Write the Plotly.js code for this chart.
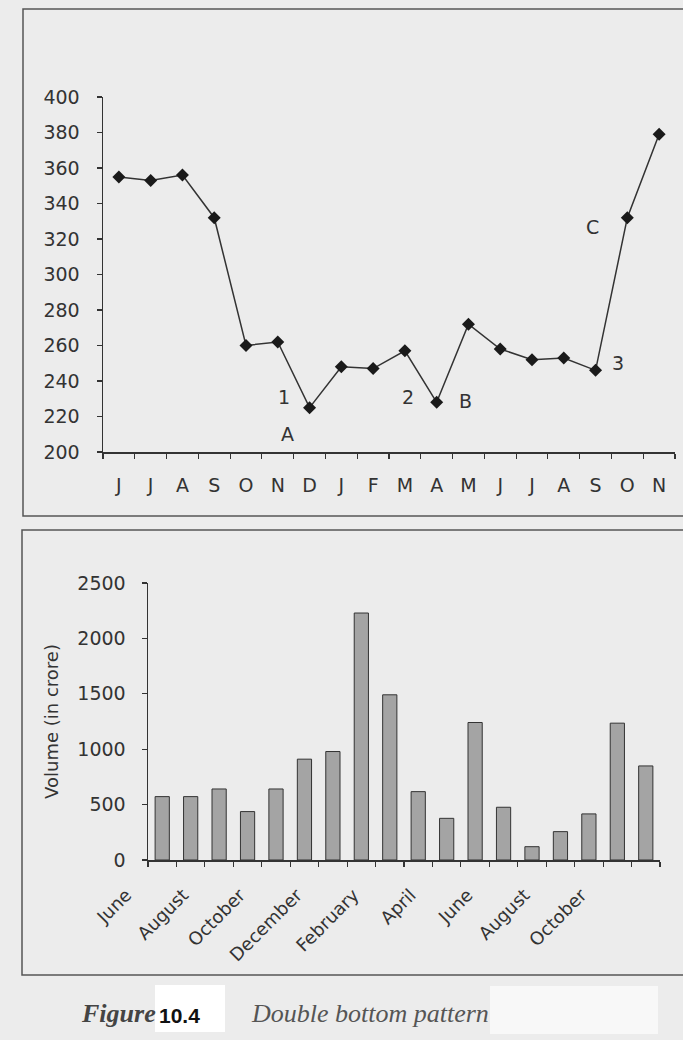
<!DOCTYPE html>
<html>
<head>
<meta charset="utf-8">
<script src="https://cdn.plot.ly/plotly-3.0.1.min.js"></script>
<style>
  html, body { margin: 0; padding: 0; background: #ececec; }
  #chart { width: 683px; height: 1040px; }
</style>
</head>
<body>
<div id="chart"></div>
<script>
// ---- data ----
const months = ["June","July","August","September","October","November","December",
                "January","February","March","April","May","June","July","August",
                "September","October","November"];
const priceTickLabels = ["J","J","A","S","O","N","D","J","F","M","A","M","J","J","A","S","O","N"];
const price = [355, 353, 356, 332, 260, 262, 225, 248, 247, 257, 228, 272, 258, 252, 253, 246, 332, 379];
const volume = [572, 572, 641, 437, 641, 910, 979, 2229, 1491, 617, 376, 1241, 476, 120, 256, 416, 1235, 849];
const volumeTickLabels = ["June","August","October","December","February","April","June","August","October"];
const pointLabels = ["1", "A", "2", "B", "C", "3"];
const pointLabelX = [5.2, 5.3, 9.1, 10.9, 14.9, 15.7];
const pointLabelY = [231, 210, 231, 229, 327, 250];
const captionParts = ["Figure", "10.4", "Double bottom pattern"];
const volumeTitle = "Volume (in crore)";

// ---- helpers (page pixels -> paper fractions) ----
const W = 683, H = 1040;
const px = v => v / W;
const py = v => 1 - v / H;

const idx = months.map((m, i) => i);
const volTickVals = volumeTickLabels.map((m, i) => i * 2);

const axisFont = { family: "DejaVu Sans, Arial, sans-serif", size: 19, color: "#333" };
const lineCol = "#333";

const traces = [
  {
    type: "scatter", mode: "lines+markers",
    x: idx, y: price, xaxis: "x", yaxis: "y",
    line: { color: "#333", width: 1.5 },
    marker: { symbol: "diamond", size: 10, color: "#1a1a1a" },
    hoverinfo: "skip", showlegend: false
  },
  {
    type: "bar",
    x: idx, y: volume, xaxis: "x2", yaxis: "y2",
    width: 0.5,
    marker: { color: "#a4a4a4", line: { color: "#333", width: 1 } },
    hoverinfo: "skip", showlegend: false
  }
];

const minorTicks = { ticks: "outside", ticklen: 5, tickwidth: 1.2, tickcolor: lineCol,
                     tickmode: "linear", tick0: -0.5, dtick: 1, showgrid: false };

const annotations = pointLabels.map((t, i) => ({
  text: t, x: pointLabelX[i], y: pointLabelY[i], xref: "x", yref: "y",
  showarrow: false, font: axisFont, xanchor: "center", yanchor: "middle"
}));

annotations.push(
  { text: captionParts[0], xref: "paper", yref: "paper", x: px(79), y: py(1013),
    xanchor: "left", yanchor: "middle", showarrow: false,
    font: { family: "Liberation Serif, Times New Roman, serif", size: 26, color: "#444",
            style: "italic", weight: "bold" } },
  { text: captionParts[1], xref: "paper", yref: "paper", x: px(157), y: py(1015),
    xanchor: "left", yanchor: "middle", showarrow: false,
    font: { family: "Liberation Sans, Arial, sans-serif", size: 21, color: "#111", weight: "bold" } },
  { text: captionParts[2], xref: "paper", yref: "paper", x: px(249), y: py(1013),
    xanchor: "left", yanchor: "middle", showarrow: false,
    font: { family: "Liberation Serif, Times New Roman, serif", size: 26, color: "#555",
            style: "italic" } }
);

const shapes = [
  { type: "rect", xref: "paper", yref: "paper", layer: "below",
    x0: px(23), x1: px(700), y0: py(9), y1: py(516),
    line: { color: "#555", width: 1.5 }, fillcolor: "rgba(0,0,0,0)" },
  { type: "rect", xref: "paper", yref: "paper", layer: "below",
    x0: px(22), x1: px(700), y0: py(530), y1: py(975),
    line: { color: "#555", width: 1.5 }, fillcolor: "rgba(0,0,0,0)" },
  { type: "rect", xref: "paper", yref: "paper", layer: "below",
    x0: px(155), x1: px(225), y0: py(985), y1: py(1032),
    line: { width: 0 }, fillcolor: "#ffffff" },
  { type: "rect", xref: "paper", yref: "paper", layer: "below",
    x0: px(490), x1: px(658), y0: py(986), y1: py(1034),
    line: { width: 0 }, fillcolor: "#f8f8f8" }
];

const layout = {
  width: W, height: H,
  margin: { l: 0, r: 0, t: 0, b: 0 },
  paper_bgcolor: "#ececec",
  plot_bgcolor: "rgba(0,0,0,0)",
  showlegend: false,
  font: axisFont,
  xaxis: {
    domain: [px(103), px(675)], anchor: "y",
    range: [-0.5, 17.5], showgrid: false, zeroline: false,
    showline: true, linecolor: lineCol, linewidth: 1.5,
    tickmode: "array", tickvals: idx, ticktext: priceTickLabels,
    ticks: "", ticklabelstandoff: 16, tickfont: axisFont,
    minor: minorTicks, fixedrange: true
  },
  yaxis: {
    domain: [py(452), py(97)], anchor: "x",
    range: [200, 400], dtick: 20, showgrid: false, zeroline: false,
    showline: true, linecolor: lineCol, linewidth: 1.5,
    ticks: "outside", ticklen: 5, tickwidth: 1.2, tickcolor: lineCol,
    ticklabelstandoff: 13, tickfont: axisFont, fixedrange: true
  },
  xaxis2: {
    domain: [px(148), px(660)], anchor: "y2",
    range: [-0.5, 17.5], showgrid: false, zeroline: false,
    showline: true, linecolor: lineCol, linewidth: 1.5,
    tickmode: "array", tickvals: volTickVals, ticktext: volumeTickLabels,
    tickangle: -45, ticks: "", ticklabelstandoff: 16, ticklabelshift: -36,
    tickfont: { family: "DejaVu Sans, Arial, sans-serif", size: 18, color: "#333" },
    minor: minorTicks, fixedrange: true
  },
  yaxis2: {
    domain: [py(860), py(583)], anchor: "x2",
    range: [0, 2500], dtick: 500, showgrid: false, zeroline: false,
    showline: true, linecolor: lineCol, linewidth: 1.5,
    ticks: "outside", ticklen: 5, tickwidth: 1.2, tickcolor: lineCol,
    ticklabelstandoff: 12, tickfont: axisFont,
    title: { text: volumeTitle, standoff: 14,
             font: { family: "DejaVu Sans, Arial, sans-serif", size: 18, color: "#333" } },
    fixedrange: true
  },
  annotations: annotations,
  shapes: shapes
};

Plotly.newPlot("chart", traces, layout, { displayModeBar: false, staticPlot: true });
</script>
</body>
</html>
